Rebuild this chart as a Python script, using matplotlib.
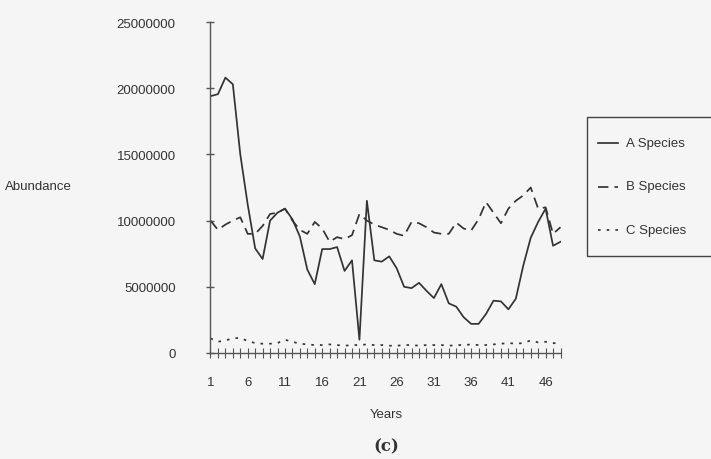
import numpy as np
import matplotlib.pyplot as plt
from matplotlib.lines import Line2D
from matplotlib.patches import Rectangle

years = np.arange(1, 49)

# abundance, in millions
species_a = [19.4, 19.55, 20.8, 20.3, 15.0, 11.2, 7.9, 7.1, 10.0, 10.6,
             10.9, 10.1, 8.8, 6.3, 5.2, 7.85, 7.85, 8.0, 6.2, 7.0,
             1.0, 11.5, 7.0, 6.9, 7.3, 6.4, 5.0, 4.9, 5.3, 4.7,
             4.15, 5.2, 3.75, 3.5, 2.7, 2.2, 2.2, 2.95, 3.95, 3.9,
             3.3, 4.1, 6.6, 8.7, 9.9, 10.9, 8.1, 8.4]
species_b = [10.0, 9.3, 9.7, 10.0, 10.25, 9.0, 9.0, 9.6, 10.5, 10.6,
             10.9, 10.0, 9.3, 9.0, 9.9, 9.4, 8.4, 8.75, 8.6, 8.9,
             10.5, 10.0, 9.7, 9.5, 9.3, 9.0, 8.85, 9.9, 9.8, 9.5,
             9.1, 9.0, 9.0, 9.85, 9.4, 9.25, 10.1, 11.4, 10.6, 9.8,
             10.9, 11.5, 11.9, 12.5, 10.9, 11.0, 9.0, 9.5]
species_c = [1.1, 0.85, 0.95, 1.1, 1.15, 0.9, 0.75, 0.7, 0.7, 0.75,
             1.0, 0.85, 0.7, 0.65, 0.6, 0.6, 0.65, 0.6, 0.55, 0.6,
             0.6, 0.65, 0.6, 0.6, 0.55, 0.55, 0.6, 0.6, 0.55, 0.6,
             0.6, 0.6, 0.55, 0.6, 0.6, 0.65, 0.6, 0.6, 0.65, 0.7,
             0.75, 0.7, 0.75, 0.95, 0.8, 0.85, 0.75, 0.7]

series_names = ['A Species', 'B Species', 'C Species']
y_ticks = [0, 5000000, 10000000, 15000000, 20000000, 25000000]
x_labels = [1, 6, 11, 16, 21, 26, 31, 36, 41, 46]

bg = '#f4f5f4'
ink = '#333333'
styles = ['-', (0, (6, 3.5)), (0, (1.5, 3.5))]

plt.rcParams['font.family'] = ['Liberation Sans', 'DejaVu Sans']

fig = plt.figure(figsize=(7.11, 4.60), dpi=100, facecolor=bg)
ax = fig.add_axes([210.5 / 711, 106 / 460, 350 / 711, 331 / 460])
ax.set_facecolor(bg)

for vals, ls in zip([species_a, species_b, species_c], styles):
    ax.plot(years, np.array(vals) * 1e6, color=ink, lw=1.25, linestyle=ls)

ax.set_xlim(1, 48)
ax.set_ylim(0, 25000000)
ax.set_yticks(y_ticks)
ax.set_yticklabels([str(v) for v in y_ticks])
ax.set_xticks(years)
ax.set_xticklabels([str(y) if y in x_labels else '' for y in years])

for s in ['top', 'right']:
    ax.spines[s].set_visible(False)
for s in ['left', 'bottom']:
    ax.spines[s].set_color('#555555')
    ax.spines[s].set_linewidth(1.0)

ax.tick_params(axis='y', direction='inout', length=6, width=1.0,
               color='#555555', pad=22, labelsize=9.5, labelcolor=ink)
ax.tick_params(axis='x', direction='inout', length=7, width=0.8,
               color='#555555', pad=13, labelsize=9.5, labelcolor=ink)

fig.text(5 / 711, 1 - 187 / 460, 'Abundance', fontsize=9.5, color=ink,
         ha='left', va='center')
fig.text(386 / 711, 1 - 415 / 460, 'Years', fontsize=9.5, color=ink,
         ha='center', va='center')
fig.text(386 / 711, 1 - 447 / 460, '(c)', fontsize=12, color=ink,
         ha='center', va='center', family='DejaVu Serif', weight='bold')

# legend box, cut by the right edge like the scan
fig.add_artist(Rectangle((586.7 / 711, 1 - 256.7 / 460), 140 / 711, 138.4 / 460,
                         transform=fig.transFigure, facecolor=bg,
                         edgecolor='#444444', lw=1.0, clip_on=False))
for k, (name, ls) in enumerate(zip(series_names, styles)):
    yy = 1 - (144 + 43.5 * k) / 460
    fig.add_artist(Line2D([598 / 711, 618 / 711], [yy, yy], color=ink, lw=1.25,
                          linestyle=ls, transform=fig.transFigure))
    fig.text(626 / 711, yy, name, fontsize=9.5, color=ink, ha='left', va='center')

fig.savefig('out.png', dpi=100, facecolor=bg)
